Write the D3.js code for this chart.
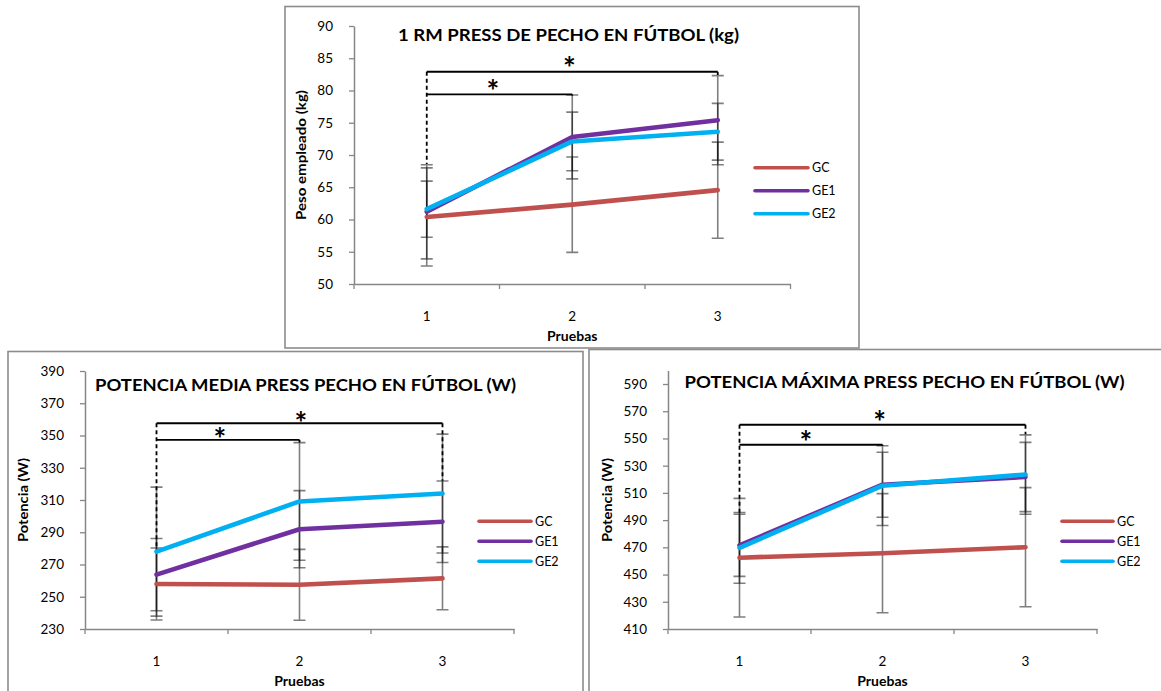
<!DOCTYPE html>
<html>
<head>
<meta charset="utf-8">
<script src="https://cdn.jsdelivr.net/npm/d3@7"></script>
<style>
  body { margin: 0; background: #fff; }
  svg { display: block; }
  text { font-family: Lato, "Open Sans", sans-serif; fill: #000; }
</style>
</head>
<body>
<script>
// ---- Data ----
const pruebas = ["1", "2", "3"];
const grupos = ["GC", "GE1", "GE2"];

// 1 RM press de pecho (kg): medias y desviaciones típicas
const rmGC = [60.4, 62.3, 64.55];
const rmGE1 = [61.2, 72.8, 75.4];
const rmGE2 = [61.6, 72.1, 73.6];
const rmGC_sd = [7.6, 7.4, 7.45];
const rmGE1_sd = [7.3, 6.5, 6.9];
const rmGE2_sd = [4.35, 4.55, 4.4];
const rmTicks = [50, 55, 60, 65, 70, 75, 80, 85, 90];
// brackets: [desde, hasta, nivel, fin del tramo vertical derecho]
const rmBrackets = [[0, 2, 82.9, 82.4], [0, 1, 79.4, 79.2]];

// Potencia media (W)
const pmGC = [257.9, 257.4, 261.4];
const pmGE1 = [263.7, 291.9, 296.5];
const pmGE2 = [278.0, 309.1, 314.0];
const pmGC_sd = [22.3, 22.0, 19.5];
const pmGE1_sd = [22.4, 23.9, 25.3];
const pmGE2_sd = [40.0, 36.5, 36.85];
const pmTicks = [230, 250, 270, 290, 310, 330, 350, 370, 390];
const pmBrackets = [[0, 2, 357.6, 322], [0, 1, 347.3, 345.6]];

// Potencia máxima (W)
const pxGC = [462.4, 465.7, 470.1];
const pxGE1 = [471.5, 516.0, 521.7];
const pxGE2 = [469.6, 515.3, 523.5];
const pxGC_sd = [43.6, 43.8, 43.75];
const pxGE1_sd = [22.8, 23.9, 25.45];
const pxGE2_sd = [26.0, 29.3, 29.15];
const pxTicks = [410, 430, 450, 470, 490, 510, 530, 550, 570, 590];
const pxBrackets = [[0, 2, 560.1, 553], [0, 1, 545.4, 544.5]];

// ---- Styles ----
const colores = ["#c0504d", "#7030a0", "#00b0f0"];
const axisColor = "#868686";
const frameColor = "#8c8c8c";
const starSize = 30;

const svg = d3.select("body").append("svg")
  .attr("width", 1161).attr("height", 691);

function chart(c) {
  const g = svg.append("g");

  g.append("rect")
    .attr("x", c.frame[0]).attr("y", c.frame[1])
    .attr("width", c.frame[2]).attr("height", c.frame[3])
    .attr("fill", "#fff").attr("stroke", frameColor).attr("stroke-width", 1.6);

  const x = d3.scaleBand().domain(pruebas).range([c.x0, c.x1]);
  const cx = i => x(pruebas[i]) + x.bandwidth() / 2;
  const y = d3.scaleLinear().domain(c.domain).range([c.yBot, c.yTop]);

  // y axis
  const ya = g.append("g")
    .attr("transform", `translate(${c.x0},0)`)
    .call(d3.axisLeft(y).tickValues(c.ticks).tickSize(5).tickSizeOuter(0).tickPadding(16));
  ya.select(".domain").attr("stroke", axisColor).attr("stroke-width", 1.5);
  ya.selectAll(".tick line").attr("stroke", axisColor).attr("stroke-width", 1.3);
  ya.selectAll(".tick text").attr("font-size", 13.5).attr("font-family", "Lato, sans-serif").attr("fill", "#000");

  // x axis
  const xa = g.append("g")
    .attr("transform", `translate(0,${c.yBot})`)
    .call(d3.axisBottom(x).tickSize(0).tickSizeOuter(0).tickPadding(27));
  xa.select(".domain").attr("stroke", axisColor).attr("stroke-width", 1.5);
  xa.selectAll(".tick text").attr("font-size", 13.5).attr("font-family", "Lato, sans-serif").attr("fill", "#000");
  const bounds = pruebas.map(p => x(p)).concat([c.x1]);
  xa.selectAll("line.bound").data(bounds).join("line")
    .attr("class", "bound")
    .attr("x1", d => d).attr("x2", d => d)
    .attr("y1", 0).attr("y2", 5)
    .attr("stroke", axisColor).attr("stroke-width", 1.3);

  // error bars (semi-transparent, overlaps darken)
  c.series.forEach((s, k) => {
    g.append("g").selectAll("path").data(s.mean).join("path")
      .attr("d", (m, i) => {
        const xx = cx(i), yt = y(m + s.sd[i]), yb = y(m - s.sd[i]);
        return `M${xx - 6},${yt}H${xx + 6}M${xx},${yt}V${yb}M${xx - 6},${yb}H${xx + 6}`;
      })
      .attr("fill", "none").attr("stroke", "#000")
      .attr("stroke-opacity", 0.5).attr("stroke-width", 1.6);
  });

  // series lines
  const line = d3.line().x((d, i) => cx(i)).y(d => y(d));
  c.series.forEach((s, k) => {
    g.append("path").datum(s.mean)
      .attr("d", line)
      .attr("fill", "none").attr("stroke", colores[k])
      .attr("stroke-width", 4.6).attr("stroke-linecap", "round").attr("stroke-linejoin", "round");
  });

  // significance brackets
  const topLevel = d3.max(c.brackets, b => b[2]);
  g.append("line")
    .attr("x1", cx(0)).attr("x2", cx(0))
    .attr("y1", y(topLevel)).attr("y2", y(c.dashEnd))
    .attr("stroke", "#000").attr("stroke-width", 1.8).attr("stroke-dasharray", "4,3");
  c.brackets.forEach((b, j) => {
    g.append("path")
      .attr("d", `M${cx(b[0])},${y(b[2])}H${cx(b[1])}`)
      .attr("fill", "none").attr("stroke", "#000").attr("stroke-width", 1.9);
    g.append("line")
      .attr("x1", cx(b[1])).attr("x2", cx(b[1]))
      .attr("y1", y(b[2])).attr("y2", y(b[3]))
      .attr("stroke", "#000").attr("stroke-width", 1.8).attr("stroke-dasharray", "4,3");
    const ax = cx(b[0]) + c.starFrac[j] * (cx(b[1]) - cx(b[0]));
    g.append("text")
      .attr("x", ax).attr("y", y(b[2]) - c.starOffset + 0.55 * starSize)
      .attr("text-anchor", "middle")
      .attr("font-family", "DejaVu Sans, sans-serif")
      .attr("font-weight", "bold").attr("font-size", starSize)
      .text("*");
  });

  // titles
  g.append("text")
    .attr("x", c.title.x).attr("y", c.title.y)
    .attr("text-anchor", "middle").attr("font-weight", "bold")
    .attr("font-size", 17.5)
    .attr("textLength", c.title.w).attr("lengthAdjust", "spacingAndGlyphs")
    .text(c.title.text);

  g.append("text")
    .attr("transform", `translate(${c.ylab.x},${c.ylab.y}) rotate(-90)`)
    .attr("text-anchor", "middle").attr("dominant-baseline", "central")
    .attr("font-weight", "bold").attr("font-size", 13.5)
    .attr("textLength", c.ylab.w).attr("lengthAdjust", "spacingAndGlyphs")
    .text(c.ylab.text);

  g.append("text")
    .attr("x", (c.x0 + c.x1) / 2).attr("y", c.yBot + 56.7)
    .attr("text-anchor", "middle").attr("font-weight", "bold")
    .attr("font-size", 14)
    .text("Pruebas");

  // legend
  const lg = g.append("g").selectAll("g").data(grupos).join("g")
    .attr("transform", (d, i) => `translate(${c.legend.x},${c.legend.y + i * c.legend.step})`);
  lg.append("line")
    .attr("x1", 0).attr("x2", c.legend.len).attr("y1", 0).attr("y2", 0)
    .attr("stroke", (d, i) => colores[i]).attr("stroke-width", 3.6).attr("stroke-linecap", "round");
  lg.append("text")
    .attr("x", c.legend.len + 4).attr("y", 0).attr("dy", "0.36em")
    .attr("font-size", 12.5)
    .text(d => d);
}

// Bottom panels first so the top panel's frame sits above them
chart({
  frame: [8, 351.5, 575, 360],
  x0: 85, x1: 514, yTop: 371, yBot: 629,
  domain: [230, 390], ticks: pmTicks,
  series: [
    { mean: pmGC, sd: pmGC_sd },
    { mean: pmGE1, sd: pmGE1_sd },
    { mean: pmGE2, sd: pmGE2_sd }
  ],
  brackets: pmBrackets, dashEnd: 281,
  starFrac: [0.505, 0.444], starOffset: 6,
  title: { x: 305.5, y: 390.7, w: 421, text: "POTENCIA MEDIA PRESS PECHO EN FÚTBOL (W)" },
  ylab: { x: 22.7, y: 500, w: 84, text: "Potencia (W)" },
  legend: { x: 479, y: 521.3, step: 20, len: 52 }
});

chart({
  frame: [589, 349.5, 600, 360],
  x0: 668, x1: 1097, yTop: 370.4, yBot: 629,
  domain: [410, 600], ticks: pxTicks,
  series: [
    { mean: pxGC, sd: pxGC_sd },
    { mean: pxGE1, sd: pxGE1_sd },
    { mean: pxGE2, sd: pxGE2_sd }
  ],
  brackets: pxBrackets, dashEnd: 495,
  starFrac: [0.49, 0.465], starOffset: 8,
  title: { x: 904.6, y: 388, w: 440, text: "POTENCIA MÁXIMA PRESS PECHO EN FÚTBOL (W)" },
  ylab: { x: 607, y: 500, w: 84, text: "Potencia (W)" },
  legend: { x: 1062, y: 521.3, step: 20, len: 51 }
});

chart({
  frame: [285, 6.5, 574, 341.5],
  x0: 354, x1: 790.5, yTop: 26, yBot: 284,
  domain: [50, 90], ticks: rmTicks,
  series: [
    { mean: rmGC, sd: rmGC_sd },
    { mean: rmGE1, sd: rmGE1_sd },
    { mean: rmGE2, sd: rmGE2_sd }
  ],
  brackets: rmBrackets, dashEnd: 68.6,
  starFrac: [0.49, 0.455], starOffset: 9,
  title: { x: 568.5, y: 40.7, w: 341, text: "1 RM PRESS DE PECHO EN FÚTBOL (kg)" },
  ylab: { x: 300.5, y: 155, w: 130, text: "Peso empleado (kg)" },
  legend: { x: 755, y: 167.7, step: 23, len: 53 }
});
</script>
</body>
</html>
